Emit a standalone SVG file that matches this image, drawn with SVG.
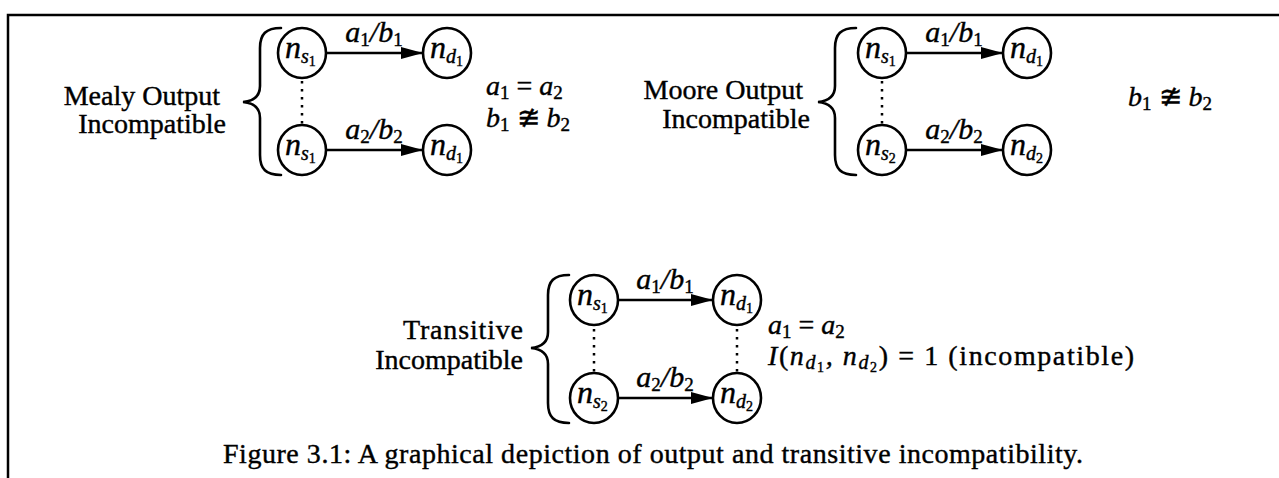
<svg xmlns="http://www.w3.org/2000/svg" width="1279" height="478" viewBox="0 0 1279 478">
<style>
text{font-family:"Liberation Serif","DejaVu Serif",serif;fill:#000;stroke:#000;stroke-width:0.4}
.t{font-size:28px}
.m{font-size:30px;font-style:italic}
.q{font-size:28px;font-style:italic}
.nl{font-size:32px;font-style:italic}
.s{font-size:20px}
.ss{font-size:14px;font-style:normal}
.sd{font-size:19px;font-style:normal}
.r{font-style:normal}
.cap{font-size:28px}
.c{fill:#fff;stroke:#000;stroke-width:2.6}
.e{fill:none;stroke:#000;stroke-width:2.3;marker-end:url(#ah)}
.dt{stroke:#000;stroke-width:2.5;stroke-dasharray:2.5 5.5}
.br{fill:none;stroke:#000;stroke-width:2.6;stroke-linecap:round}
.fr{fill:none;stroke:#000;stroke-width:2.5}
</style>
<defs>
<marker id="ah" markerUnits="userSpaceOnUse" markerWidth="22" markerHeight="14" refX="22" refY="7" orient="auto"><path d="M0,1 L22,7 L0,13 z" fill="#000"/></marker>
</defs>
<path id="frame" class="fr" d="M8,478 L8,15 L1279,15"/>

<g id="connectors">
<line class="e" x1="326" y1="53" x2="423" y2="53"/>
<line class="e" x1="326" y1="150" x2="423" y2="150"/>
<line class="e" x1="906" y1="53" x2="1003" y2="53"/>
<line class="e" x1="906" y1="150" x2="1003" y2="150"/>
<line class="e" x1="618" y1="300" x2="713" y2="300"/>
<line class="e" x1="618" y1="398" x2="713" y2="398"/>
<line class="dt" x1="302" y1="81" x2="302" y2="124"/>
<line class="dt" x1="882" y1="81" x2="882" y2="124"/>
<line class="dt" x1="594" y1="329" x2="594" y2="372"/>
<line class="dt" x1="737" y1="329" x2="737" y2="372"/>
<text class="m" text-anchor="middle" x="374" y="42">a<tspan class="sd" dy="4">1</tspan><tspan dy="-4">/b</tspan><tspan class="sd" dy="4">1</tspan></text>
<text class="m" text-anchor="middle" x="374" y="139">a<tspan class="sd" dy="4">2</tspan><tspan dy="-4">/b</tspan><tspan class="sd" dy="4">2</tspan></text>
<text class="m" text-anchor="middle" x="954" y="42">a<tspan class="sd" dy="4">1</tspan><tspan dy="-4">/b</tspan><tspan class="sd" dy="4">1</tspan></text>
<text class="m" text-anchor="middle" x="954" y="139">a<tspan class="sd" dy="4">2</tspan><tspan dy="-4">/b</tspan><tspan class="sd" dy="4">2</tspan></text>
<text class="m" text-anchor="middle" x="665" y="289">a<tspan class="sd" dy="4">1</tspan><tspan dy="-4">/b</tspan><tspan class="sd" dy="4">1</tspan></text>
<text class="m" text-anchor="middle" x="665" y="387">a<tspan class="sd" dy="4">2</tspan><tspan dy="-4">/b</tspan><tspan class="sd" dy="4">2</tspan></text>
</g>

<g id="mealy">
<text class="t" text-anchor="end" x="220" y="105">Mealy Output</text>
<text class="t" text-anchor="end" x="226" y="133">Incompatible</text>
<path class="br" d="M281,28 C266,28 260,34 260,48 L260,86 C260,96 254,101 243,102 C254,103 260,108 260,118 L260,155 C260,169 266,175 281,175"/>
<g id="mealy-ns1-a"><ellipse class="c" cx="302" cy="53" rx="24" ry="25"/><text class="nl" x="285" y="58">n<tspan class="s" dy="5">s</tspan><tspan class="ss" dy="3">1</tspan></text></g>
<g id="mealy-nd1-a"><ellipse class="c" cx="447" cy="53" rx="24" ry="25"/><text class="nl" x="430" y="58">n<tspan class="s" dy="5">d</tspan><tspan class="ss" dy="3">1</tspan></text></g>
<g id="mealy-ns1-b"><ellipse class="c" cx="302" cy="150" rx="24" ry="25"/><text class="nl" x="285" y="155">n<tspan class="s" dy="5">s</tspan><tspan class="ss" dy="3">1</tspan></text></g>
<g id="mealy-nd1-b"><ellipse class="c" cx="447" cy="150" rx="24" ry="25"/><text class="nl" x="430" y="155">n<tspan class="s" dy="5">d</tspan><tspan class="ss" dy="3">1</tspan></text></g>
<text class="q" x="486" y="95">a<tspan class="sd" dy="4">1</tspan><tspan class="r" dy="-4"> = </tspan>a<tspan class="sd" dy="4">2</tspan></text>
<text class="q" x="486" y="127">b<tspan class="sd" dy="4">1</tspan><tspan class="r" dy="-4"> ≇ </tspan>b<tspan class="sd" dy="4">2</tspan></text>
</g>

<g id="moore">
<text class="t" text-anchor="end" x="803" y="99">Moore Output</text>
<text class="t" text-anchor="end" x="810" y="128">Incompatible</text>
<path class="br" d="M856,28 C841,28 835,34 835,48 L835,86 C835,96 829,101 818,102 C829,103 835,108 835,118 L835,155 C835,169 841,175 856,175"/>
<g id="moore-ns1"><ellipse class="c" cx="882" cy="53" rx="24" ry="25"/><text class="nl" x="865" y="58">n<tspan class="s" dy="5">s</tspan><tspan class="ss" dy="3">1</tspan></text></g>
<g id="moore-nd1"><ellipse class="c" cx="1027" cy="53" rx="24" ry="25"/><text class="nl" x="1010" y="58">n<tspan class="s" dy="5">d</tspan><tspan class="ss" dy="3">1</tspan></text></g>
<g id="moore-ns2"><ellipse class="c" cx="882" cy="150" rx="24" ry="25"/><text class="nl" x="865" y="155">n<tspan class="s" dy="5">s</tspan><tspan class="ss" dy="3">2</tspan></text></g>
<g id="moore-nd2"><ellipse class="c" cx="1027" cy="150" rx="24" ry="25"/><text class="nl" x="1010" y="155">n<tspan class="s" dy="5">d</tspan><tspan class="ss" dy="3">2</tspan></text></g>
<text class="q" x="1128" y="106">b<tspan class="sd" dy="4">1</tspan><tspan class="r" dy="-4"> ≇ </tspan>b<tspan class="sd" dy="4">2</tspan></text>
</g>

<g id="transitive">
<text class="t" text-anchor="end" x="523" y="339" textLength="120" lengthAdjust="spacing">Transitive</text>
<text class="t" text-anchor="end" x="523" y="369">Incompatible</text>
<path class="br" d="M569,275 C554,275 548,281 548,295 L548,332 C548,342 542,347 531,348 C542,349 548,354 548,364 L548,403 C548,417 554,423 569,423"/>
<g id="trans-ns1"><ellipse class="c" cx="594" cy="300" rx="24" ry="25"/><text class="nl" x="577" y="305">n<tspan class="s" dy="5">s</tspan><tspan class="ss" dy="3">1</tspan></text></g>
<g id="trans-nd1"><ellipse class="c" cx="737" cy="300" rx="24" ry="25"/><text class="nl" x="720" y="305">n<tspan class="s" dy="5">d</tspan><tspan class="ss" dy="3">1</tspan></text></g>
<g id="trans-ns2"><ellipse class="c" cx="594" cy="398" rx="24" ry="25"/><text class="nl" x="577" y="403">n<tspan class="s" dy="5">s</tspan><tspan class="ss" dy="3">2</tspan></text></g>
<g id="trans-nd2"><ellipse class="c" cx="737" cy="398" rx="24" ry="25"/><text class="nl" x="720" y="403">n<tspan class="s" dy="5">d</tspan><tspan class="ss" dy="3">2</tspan></text></g>
<text class="q" x="768" y="334">a<tspan class="sd" dy="4">1</tspan><tspan class="r" dy="-4"> = </tspan>a<tspan class="sd" dy="4">2</tspan></text>
<text class="q" x="768" y="365" textLength="366" lengthAdjust="spacing">I<tspan class="r">(</tspan>n<tspan class="s" dy="4">d</tspan><tspan class="ss" dy="3">1</tspan><tspan dy="-7">, n</tspan><tspan class="s" dy="4">d</tspan><tspan class="ss" dy="3">2</tspan><tspan class="r" dy="-7">) = 1 (incompatible)</tspan></text>
</g>

<text id="caption" class="cap" x="223" y="463" textLength="860" lengthAdjust="spacing">Figure 3.1: A graphical depiction of output and transitive incompatibility.</text>
</svg>
